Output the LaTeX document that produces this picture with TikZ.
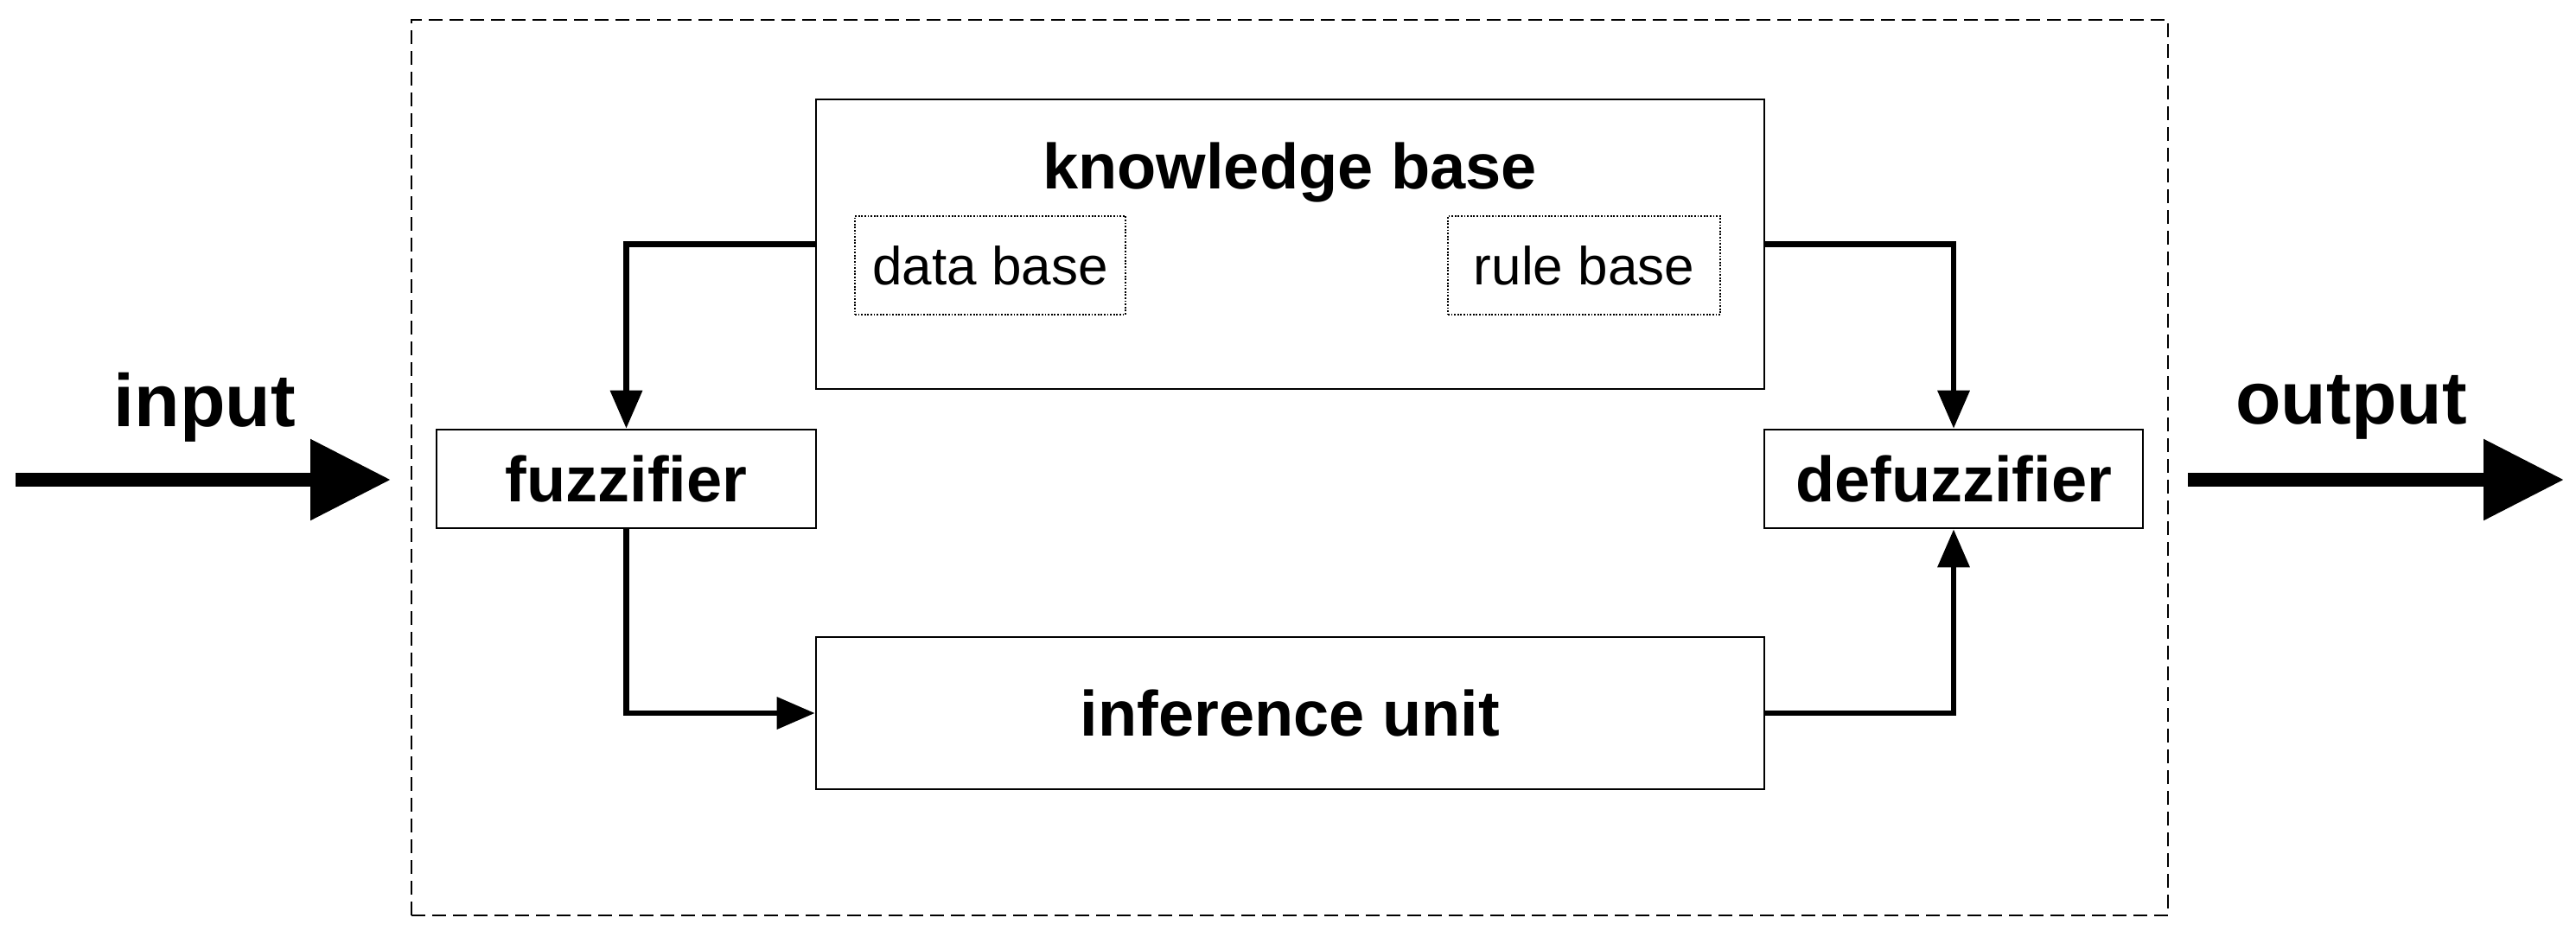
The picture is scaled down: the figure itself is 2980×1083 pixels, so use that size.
\documentclass[tikz,border=0pt]{standalone}
\usepackage{fontspec}
\setmainfont{Liberation Sans}[Ligatures=CommonOff]
\usetikzlibrary{arrows.meta}
\begin{document}
\begin{tikzpicture}[x=0.5pt,y=0.5pt,
  box/.style={draw=black,line width=1.3pt,rectangle,inner sep=0pt,fill=white},
  bigtxt/.style={font=\fontsize{37pt}{40pt}\selectfont\bfseries},
  iotxt/.style={font=\fontsize{43pt}{46pt}\selectfont\bfseries},
  smalltxt/.style={font=\fontsize{31pt}{34pt}\selectfont},
  dotbox/.style={draw=black,line width=0.7pt,dash pattern=on 0.9pt off 0.9pt,rectangle,inner sep=0pt},
  conn/.style={line width=3.3pt,-{Triangle[length=22pt,width=18pt]}},
  bigarrow/.style={line width=8pt,-{Triangle[length=46.5pt,width=45pt]}}
]
\useasboundingbox (0,0) rectangle (2980,-1083);
% outer dashed system box
\node[draw=black,line width=1pt,dash pattern=on 8pt off 4pt,rectangle,inner sep=0pt,
      minimum width=1016pt,minimum height=518pt] (sys) at (1492,-541) {};
% main blocks
\node[box,minimum width=548.5pt,minimum height=167.5pt] (kb) at (1492.5,-282.5) {};
\node[bigtxt,anchor=base] (kbl) at (1492,-218) {knowledge base};
\node[dotbox,smalltxt,minimum width=156.5pt,minimum height=57pt] (db) at (1145.5,-307) {data base};
\node[dotbox,smalltxt,minimum width=157.5pt,minimum height=57pt] (rb) at (1832.5,-307) {rule base};
\node[box,bigtxt,minimum width=219.5pt,minimum height=57pt] (fuz) at (724.5,-554) {fuzzifier};
\node[box,bigtxt,minimum width=219pt,minimum height=57pt] (defuz) at (2260,-554) {defuzzifier};
\node[box,bigtxt,minimum width=548.5pt,minimum height=88pt] (inf) at (1492.5,-825) {inference unit};
% input / output
\coordinate (inS) at (18,-555);
\coordinate (inE) at (452,-555);
\coordinate (outS) at (2531,-555);
\coordinate (outE) at (2966,-555);
\node[iotxt,anchor=base] (inl) at (237,-493) {input};
\node[iotxt,anchor=base] (outl) at (2720,-490) {output};
\draw[bigarrow] (inS) -- (inE);
\draw[bigarrow] (outS) -- (outE);
% connectors
\draw[conn] (kb.west) -| (fuz.north);
\draw[conn] (kb.east) -| (defuz.north);
\draw[conn] (fuz.south) |- (inf.west);
\draw[conn] (inf.east) -| (defuz.south);
\end{tikzpicture}
\end{document}
